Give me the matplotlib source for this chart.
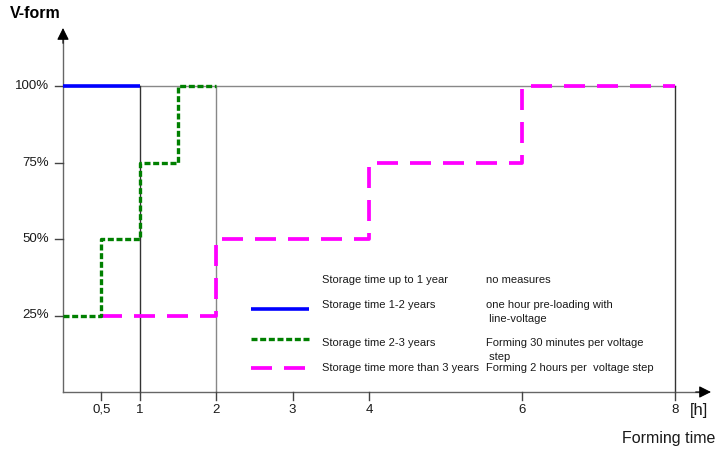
import matplotlib
matplotlib.use("Agg")
import matplotlib.pyplot as plt

plt.rcParams['font.family'] = ['Liberation Sans', 'DejaVu Sans']

# ---- data ----
blue_x = [0, 1]
blue_y = [100, 100]
green_x = [0, 0.5, 1, 1.5, 2]
green_y = [25, 50, 75, 100, 100]
magenta_x = [0.5, 2, 4, 6, 8]
magenta_y = [25, 50, 75, 100, 100]

x_ticks = [0.5, 1, 2, 3, 4, 6, 8]
x_tick_labels = ["0,5", "1", "2", "3", "4", "6", "8"]
y_ticks = [25, 50, 75, 100]
y_tick_labels = ["25%", "50%", "75%", "100%"]
guide_x = [1, 2, 8]
guide_colors = ["#333333", "#888888", "#333333"]

legend_labels = ["Storage time up to 1 year", "Storage time 1-2 years",
                 "Storage time 2-3 years", "Storage time more than 3 years"]
legend_desc = ["no measures", "one hour pre-loading with\n line-voltage",
               "Forming 30 minutes per voltage\n step", "Forming 2 hours per  voltage step"]

# ---- pixel mapping helpers (layout) ----
X0, XU = 63.0, 76.5     # px of x=0, px per hour
Y0, YU = 392.0, 3.06    # px of y=0, px per percent
W, H = 720, 449

def px(xp, yp):
    return ((xp - X0) / XU, (Y0 - yp) / YU)

fig = plt.figure(figsize=(W / 100, H / 100), dpi=100)
ax = fig.add_axes([0, 0, 1, 1])
ax.set_xlim(px(0, 0)[0], px(W, 0)[0])
ax.set_ylim(px(0, H)[1], px(0, 0)[1])
ax.axis('off')

txt_col = "#1a1a1a"

# guide lines
ax.plot([0, 8], [100, 100], color="#888888", lw=1.0, zorder=1)
for gx, gc in zip(guide_x, guide_colors):
    ax.plot([gx, gx], [0, 100], color=gc, lw=1.0, zorder=1)

# axes
x_end = px(711, 0)[0]
y_end = px(0, 28)[1]
ax.plot([0, x_end - 0.1], [0, 0], color="#666666", lw=1.0, zorder=2)
ax.plot([0, 0], [0, y_end - 3], color="#666666", lw=1.0, zorder=2)
ax.annotate('', xy=(x_end, 0), xytext=(x_end - 0.2, 0),
            arrowprops=dict(arrowstyle='-|>', color='black', lw=0.8,
                            mutation_scale=18, shrinkA=0, shrinkB=0))
ax.annotate('', xy=(0, y_end), xytext=(0, y_end - 5),
            arrowprops=dict(arrowstyle='-|>', color='black', lw=0.8,
                            mutation_scale=18, shrinkA=0, shrinkB=0))

# ticks
tick_len_x = 8 / YU
for t, lab in zip(x_ticks, x_tick_labels):
    ax.plot([t, t], [0, -tick_len_x], color="#444444", lw=1.0, zorder=2)
    ax.text(t, px(0, 410)[1], lab, ha='center', va='center', fontsize=9.5, color=txt_col)
tick_len_y = 8 / XU
for t, lab in zip(y_ticks, y_tick_labels):
    ax.plot([-tick_len_y, 0], [t, t], color="#444444", lw=1.0, zorder=2)
    ax.text(px(49, 0)[0], t, lab, ha='right', va='center', fontsize=9.5, color=txt_col)

# series
blue_style = dict(color="#0000ff", lw=2.6, solid_capstyle='butt')
green_style = dict(color="#008000", lw=2.4, dashes=(1.8, 0.8))
magenta_style = dict(color="#ff00ff", lw=2.7, dashes=(5.6, 3.2))

ax.plot(blue_x, blue_y, zorder=4, **blue_style)
ax.step(green_x, green_y, where='post', zorder=4, **green_style)
ax.step(magenta_x, magenta_y, where='post', zorder=3, **magenta_style)

# axis titles
ax.text(px(10, 0)[0], px(0, 14)[1], "V-form", ha='left', va='center',
        fontsize=11.5, fontweight='bold', color="#000000")
ax.text(px(699, 0)[0], px(0, 411)[1], "[h]", ha='center', va='center',
        fontsize=12, color=txt_col)
ax.text(px(715, 0)[0], px(0, 438)[1], "Forming time", ha='right', va='center',
        fontsize=11.5, color=txt_col)

# manual legend
styles = [None, blue_style, green_style, magenta_style]
line_y = [None, 309, 339, 368]
text_y = [280, 305, 343, 368]
for lab, desc, st, ly, ty in zip(legend_labels, legend_desc, styles, line_y, text_y):
    if st is not None:
        x1, yv = px(251, ly)
        x2, _ = px(309, ly)
        ax.plot([x1, x2], [yv, yv], zorder=4, **st)
    ax.text(px(322, 0)[0], px(0, ty)[1], lab, ha='left', va='center',
            fontsize=8, color=txt_col)
    first, *rest = desc.split('\n')
    ax.text(px(486, 0)[0], px(0, ty)[1], first, ha='left', va='center',
            fontsize=8, color=txt_col)
    if rest:
        ax.text(px(486, 0)[0], px(0, ty + 13.5)[1], rest[0], ha='left', va='center',
                fontsize=8, color=txt_col)

fig.savefig("out.png", dpi=100)
